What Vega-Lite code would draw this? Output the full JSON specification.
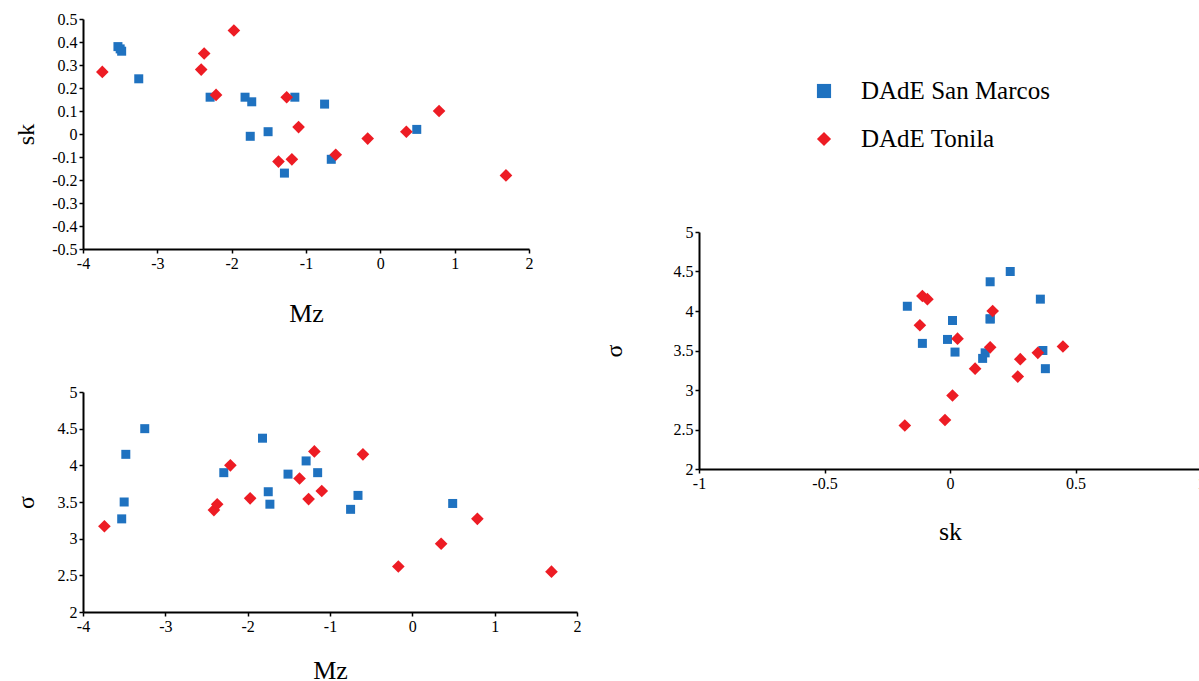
{
  "$schema": "https://vega.github.io/schema/vega-lite/v6.json",
  "background": "white",
  "padding": {"left": 14, "top": 11, "right": 0, "bottom": 0},
  "config": {
    "view": {"stroke": null},
    "font": "Liberation Serif, Times New Roman, serif",
    "text": {"font": "Liberation Serif, Times New Roman, serif"},
    "axis": {
      "grid": false,
      "domainColor": "black",
      "domainWidth": 2,
      "tickColor": "black",
      "tickWidth": 1.5,
      "tickSize": 4,
      "labelFont": "Liberation Serif, Times New Roman, serif",
      "labelFontSize": 16,
      "labelColor": "black",
      "labelPadding": 2,
      "labelFlush": false,
      "labelOverlap": false,
      "titleFont": "Liberation Serif, Times New Roman, serif",
      "titleFontWeight": "normal",
      "titleColor": "black"
    }
  },
  "datasets": {
    "pts": [
      {"series": "DAdE San Marcos", "Mz": -3.53, "sk": 0.38, "sigma": 3.27},
      {"series": "DAdE San Marcos", "Mz": -3.50, "sk": 0.37, "sigma": 3.50},
      {"series": "DAdE San Marcos", "Mz": -3.48, "sk": 0.36, "sigma": 4.15},
      {"series": "DAdE San Marcos", "Mz": -3.25, "sk": 0.24, "sigma": 4.50},
      {"series": "DAdE San Marcos", "Mz": -2.29, "sk": 0.16, "sigma": 3.90},
      {"series": "DAdE San Marcos", "Mz": -1.82, "sk": 0.16, "sigma": 4.37},
      {"series": "DAdE San Marcos", "Mz": -1.73, "sk": 0.14, "sigma": 3.47},
      {"series": "DAdE San Marcos", "Mz": -1.75, "sk": -0.01, "sigma": 3.64},
      {"series": "DAdE San Marcos", "Mz": -1.51, "sk": 0.01, "sigma": 3.88},
      {"series": "DAdE San Marcos", "Mz": -1.29, "sk": -0.17, "sigma": 4.06},
      {"series": "DAdE San Marcos", "Mz": -1.15, "sk": 0.16, "sigma": 3.90},
      {"series": "DAdE San Marcos", "Mz": -0.75, "sk": 0.13, "sigma": 3.40},
      {"series": "DAdE San Marcos", "Mz": -0.66, "sk": -0.11, "sigma": 3.59},
      {"series": "DAdE San Marcos", "Mz": 0.49, "sk": 0.02, "sigma": 3.48},
      {"series": "DAdE Tonila", "Mz": -3.74, "sk": 0.27, "sigma": 3.17},
      {"series": "DAdE Tonila", "Mz": -2.41, "sk": 0.28, "sigma": 3.39},
      {"series": "DAdE Tonila", "Mz": -2.37, "sk": 0.35, "sigma": 3.47},
      {"series": "DAdE Tonila", "Mz": -2.21, "sk": 0.17, "sigma": 4.00},
      {"series": "DAdE Tonila", "Mz": -1.97, "sk": 0.45, "sigma": 3.55},
      {"series": "DAdE Tonila", "Mz": -1.37, "sk": -0.12, "sigma": 3.82},
      {"series": "DAdE Tonila", "Mz": -1.26, "sk": 0.16, "sigma": 3.54},
      {"series": "DAdE Tonila", "Mz": -1.19, "sk": -0.11, "sigma": 4.19},
      {"series": "DAdE Tonila", "Mz": -1.10, "sk": 0.03, "sigma": 3.65},
      {"series": "DAdE Tonila", "Mz": -0.60, "sk": -0.09, "sigma": 4.15},
      {"series": "DAdE Tonila", "Mz": -0.17, "sk": -0.02, "sigma": 2.62},
      {"series": "DAdE Tonila", "Mz": 0.35, "sk": 0.01, "sigma": 2.93},
      {"series": "DAdE Tonila", "Mz": 0.79, "sk": 0.10, "sigma": 3.27},
      {"series": "DAdE Tonila", "Mz": 1.69, "sk": -0.18, "sigma": 2.55}
    ],
    "legend": [
      {"series": "DAdE San Marcos"},
      {"series": "DAdE Tonila"}
    ]
  },
  "spacing": 21,
  "hconcat": [
    {
      "spacing": 143,
      "bounds": "flush",
      "vconcat": [
        {
          "width": 446,
          "height": 230,
          "data": {"name": "pts"},
          "mark": {"type": "point", "filled": true, "opacity": 1, "clip": false},
          "encoding": {
            "x": {"field": "Mz", "type": "quantitative",
              "scale": {"domain": [-4, 2], "nice": false, "zero": false},
              "axis": {"values": [-4, -3, -2, -1, 0, 1, 2], "labelExpr": "datum.value + ''", "title": "Mz", "titleFontSize": 26, "titlePadding": 29}},
            "y": {"field": "sk", "type": "quantitative",
              "scale": {"domain": [-0.5, 0.5], "nice": false, "zero": false},
              "axis": {"values": [-0.5, -0.4, -0.3, -0.2, -0.1, 0, 0.1, 0.2, 0.3, 0.4, 0.5], "labelExpr": "datum.value + ''", "title": "sk", "titleFontSize": 24, "titlePadding": 13}},
            "color": {"field": "series", "type": "nominal", "scale": {"domain": ["DAdE San Marcos", "DAdE Tonila"], "range": ["#1F72C0", "#ED1C24"]}, "legend": null},
            "shape": {"field": "series", "type": "nominal", "scale": {"domain": ["DAdE San Marcos", "DAdE Tonila"], "range": ["square", "diamond"]}, "legend": null},
            "size": {"field": "series", "type": "nominal", "scale": {"domain": ["DAdE San Marcos", "DAdE Tonila"], "range": [81, 160]}, "legend": null}
          }
        },
        {
          "width": 494,
          "height": 220,
          "data": {"name": "pts"},
          "mark": {"type": "point", "filled": true, "opacity": 1, "clip": false},
          "encoding": {
            "x": {"field": "Mz", "type": "quantitative",
              "scale": {"domain": [-4, 2], "nice": false, "zero": false},
              "axis": {"values": [-4, -3, -2, -1, 0, 1, 2], "labelExpr": "datum.value + ''", "title": "Mz", "titleFontSize": 26, "titlePadding": 23}},
            "y": {"field": "sigma", "type": "quantitative",
              "scale": {"domain": [2, 5], "nice": false, "zero": false},
              "axis": {"values": [2, 2.5, 3, 3.5, 4, 4.5, 5], "labelExpr": "datum.value + ''", "title": "σ", "titleFontSize": 24, "titlePadding": 19}},
            "color": {"field": "series", "type": "nominal", "legend": null},
            "shape": {"field": "series", "type": "nominal", "legend": null},
            "size": {"field": "series", "type": "nominal", "legend": null}
          }
        }
      ]
    },
    {
      "spacing": 21,
      "bounds": "flush",
      "vconcat": [
        {
          "width": 250,
          "height": 192,
          "data": {"name": "legend"},
          "encoding": {
            "y": {"field": "series", "type": "nominal", "scale": {"type": "band", "paddingInner": 0, "paddingOuter": 1}, "axis": null}
          },
          "layer": [
            {
              "mark": {"type": "point", "filled": true, "opacity": 1, "size": 200},
              "encoding": {
                "color": {"field": "series", "type": "nominal", "legend": null},
                "shape": {"field": "series", "type": "nominal", "legend": null}
              }
            },
            {
              "mark": {"type": "text", "align": "left", "baseline": "middle", "dx": 37, "fontSize": 25, "font": "Liberation Serif, Times New Roman, serif", "color": "black"},
              "encoding": {
                "text": {"field": "series", "type": "nominal"}
              }
            }
          ]
        },
        {
          "width": 502,
          "height": 237,
          "data": {"name": "pts"},
          "mark": {"type": "point", "filled": true, "opacity": 1, "clip": false},
          "encoding": {
            "x": {"field": "sk", "type": "quantitative",
              "scale": {"domain": [-1, 1], "nice": false, "zero": false},
              "axis": {"values": [-1, -0.5, 0, 0.5, 1], "labelExpr": "datum.value + ''", "title": "sk", "titleFontSize": 26, "titlePadding": 27}},
            "y": {"field": "sigma", "type": "quantitative",
              "scale": {"domain": [2, 5], "nice": false, "zero": false},
              "axis": {"values": [2, 2.5, 3, 3.5, 4, 4.5, 5], "labelExpr": "datum.value + ''", "title": "σ", "titleFontSize": 24, "titlePadding": 47}},
            "color": {"field": "series", "type": "nominal", "legend": null},
            "shape": {"field": "series", "type": "nominal", "legend": null},
            "size": {"field": "series", "type": "nominal", "legend": null}
          }
        }
      ]
    }
  ]
}
